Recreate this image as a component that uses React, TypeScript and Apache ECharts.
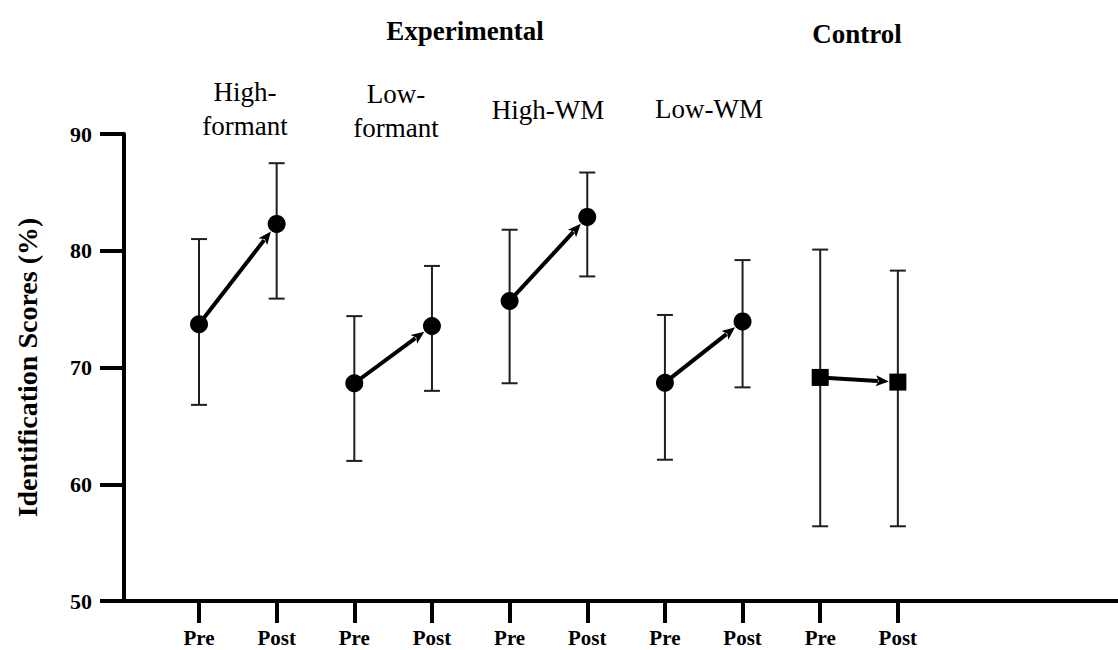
import React, { useEffect, useRef } from "react";
import * as echarts from "echarts";

const categories = ["Pre", "Post", "Pre", "Post", "Pre", "Post", "Pre", "Post", "Pre", "Post"];
const groupNames = ["High-\nformant", "Low-\nformant", "High-WM", "Low-WM"];
const conditionNames = ["Experimental", "Control"];
const means = [73.7, 82.3, 68.65, 73.55, 75.7, 82.9, 68.7, 73.95, 69.15, 68.75];
const upper = [81.0, 87.5, 74.4, 78.7, 81.8, 86.7, 74.5, 79.2, 80.1, 78.3];
const lower = [66.8, 75.9, 62.0, 68.0, 68.65, 77.8, 62.1, 68.3, 56.4, 56.4];
const isControl = [false, false, false, false, false, false, false, false, true, true];
const yTicks = [50, 60, 70, 80, 90];

const SERIF = "'Liberation Serif', 'Times New Roman', serif";

export default function App() {
  const ref = useRef<HTMLDivElement>(null);
  useEffect(() => {
    document.body.style.margin = "0";
    const chart = echarts.init(ref.current!, null, { renderer: "svg" });
    const idx = categories.map((_, i) => i);

    const errData = idx.map((i) => [i, lower[i], upper[i]]);
    const expPts = idx.filter((i) => !isControl[i]).map((i) => [i, means[i]]);
    const ctlPts = idx.filter((i) => isControl[i]).map((i) => [i, means[i]]);
    const arrowData: number[][] = [];
    for (let i = 0; i < categories.length; i += 2) {
      arrowData.push([i, means[i], i + 1, means[i + 1], isControl[i] ? 1 : 0]);
    }

    chart.setOption({
      animation: false,
      grid: {
        left: 124,
        right: 0,
        top: 134,
        bottom: 49,
        containLabel: false,
        outerBoundsMode: "none",
      },
      xAxis: {
        type: "value",
        min: -0.966,
        max: 11.835,
        splitLine: { show: false },
        axisLine: { show: true, onZero: false, lineStyle: { color: "#000", width: 4 } },
        axisTick: {
          show: true,
          customValues: idx,
          length: 22,
          inside: false,
          lineStyle: { color: "#000", width: 4 },
        },
        axisLabel: {
          customValues: idx,
          formatter: (v: number) => categories[Math.round(v)],
          fontFamily: SERIF,
          fontWeight: "bold",
          fontSize: 21,
          lineHeight: 21,
          color: "#000",
          margin: 26,
        },
      },
      yAxis: {
        type: "value",
        min: 50,
        max: 90,
        interval: 10,
        splitLine: { show: false },
        axisLine: { show: true, onZero: false, lineStyle: { color: "#000", width: 4 } },
        axisTick: {
          show: true,
          customValues: yTicks,
          length: 24,
          lineStyle: { color: "#000", width: 4 },
        },
        axisLabel: {
          customValues: yTicks,
          fontFamily: SERIF,
          fontWeight: "bold",
          fontSize: 22,
          color: "#000",
          margin: 32,
        },
        name: "Identification Scores (%)",
        nameLocation: "middle",
        nameGap: 83,
        nameTextStyle: {
          fontFamily: SERIF,
          fontWeight: "bold",
          fontSize: 28,
          color: "#000",
        },
      },
      graphic: [
        {
          type: "text",
          x: 465,
          y: 31,
          style: {
            text: conditionNames[0],
            fontFamily: SERIF,
            fontWeight: "bold",
            fontSize: 27,
            fill: "#000",
            textAlign: "center",
            textVerticalAlign: "middle",
          },
        },
        {
          type: "text",
          x: 857,
          y: 34,
          style: {
            text: conditionNames[1],
            fontFamily: SERIF,
            fontWeight: "bold",
            fontSize: 27,
            fill: "#000",
            textAlign: "center",
            textVerticalAlign: "middle",
          },
        },
        ...[
          [245, 109],
          [396, 111],
          [548, 110],
          [709, 109],
        ].map((p, k) => ({
          type: "text",
          x: p[0],
          y: p[1],
          style: {
            text: groupNames[k],
            fontFamily: SERIF,
            fontSize: 27,
            lineHeight: 34,
            fill: "#000",
            textAlign: "center",
            textVerticalAlign: "middle",
          },
        })),
      ],
      series: [
        {
          type: "custom",
          name: "error",
          coordinateSystem: "cartesian2d",
          encode: { x: 0, y: [1, 2] },
          data: errData,
          z: 1,
          renderItem: (params: any, api: any) => {
            const x = api.value(0);
            const lo = api.coord([x, api.value(1)]);
            const hi = api.coord([x, api.value(2)]);
            const hw = 8;
            const style = { stroke: "#1e1e1e", lineWidth: 2 };
            return {
              type: "group",
              children: [
                { type: "line", shape: { x1: lo[0], y1: lo[1], x2: hi[0], y2: hi[1] }, style },
                { type: "line", shape: { x1: hi[0] - hw, y1: hi[1], x2: hi[0] + hw, y2: hi[1] }, style },
                { type: "line", shape: { x1: lo[0] - hw, y1: lo[1], x2: lo[0] + hw, y2: lo[1] }, style },
              ],
            };
          },
        },
        {
          type: "custom",
          name: "arrows",
          coordinateSystem: "cartesian2d",
          encode: { x: [0, 2], y: [1, 3] },
          data: arrowData,
          z: 2,
          renderItem: (params: any, api: any) => {
            const p1 = api.coord([api.value(0), api.value(1)]);
            const p2 = api.coord([api.value(2), api.value(3)]);
            const sq = api.value(4) === 1;
            const dx = p2[0] - p1[0];
            const dy = p2[1] - p1[1];
            const len = Math.sqrt(dx * dx + dy * dy);
            const ux = dx / len;
            const uy = dy / len;
            const r = sq ? 9 / Math.max(Math.abs(ux), Math.abs(uy)) : 9.5;
            const tip = [p2[0] - ux * r, p2[1] - uy * r];
            const L = 13;
            const W = 5.5;
            const base = [tip[0] - ux * L, tip[1] - uy * L];
            const px = -uy;
            const py = ux;
            return {
              type: "group",
              children: [
                {
                  type: "line",
                  shape: { x1: p1[0], y1: p1[1], x2: base[0] + ux * 2, y2: base[1] + uy * 2 },
                  style: { stroke: "#000", lineWidth: 4 },
                },
                {
                  type: "polygon",
                  shape: {
                    points: [
                      tip,
                      [base[0] + px * W, base[1] + py * W],
                      [base[0] + ux * 3, base[1] + uy * 3],
                      [base[0] - px * W, base[1] - py * W],
                    ],
                  },
                  style: { fill: "#000" },
                },
              ],
            };
          },
        },
        {
          type: "scatter",
          name: "experimental",
          data: expPts,
          symbol: "circle",
          symbolSize: 18,
          itemStyle: { color: "#000", opacity: 1 },
          z: 3,
        },
        {
          type: "scatter",
          name: "control",
          data: ctlPts,
          symbol: "rect",
          symbolSize: 17,
          itemStyle: { color: "#000", opacity: 1 },
          z: 3,
        },
      ],
    });
    return () => chart.dispose();
  }, []);
  return <div ref={ref} style={{ width: 1118, height: 650 }} />;
}
